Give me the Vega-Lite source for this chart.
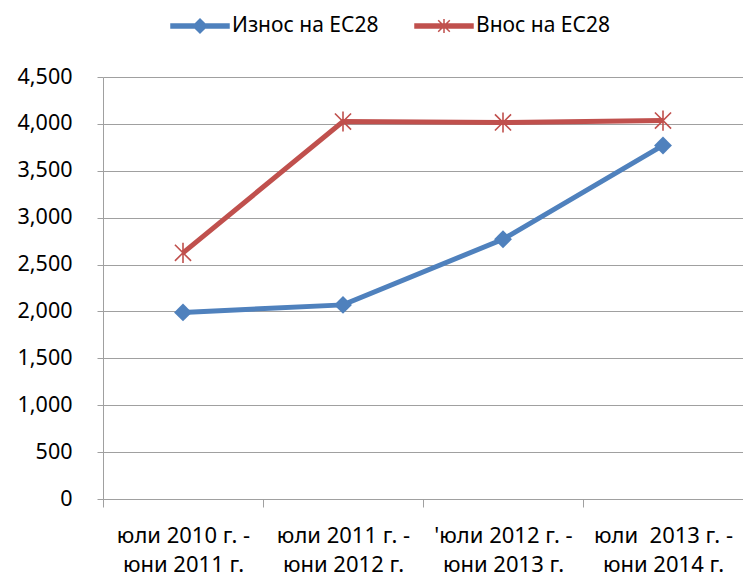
{
  "$schema": "https://vega.github.io/schema/vega-lite/v6.json",
  "width": 640,
  "height": 422,
  "autosize": "none",
  "padding": {"left": 103, "top": 77, "right": 0, "bottom": 77},
  "background": "white",
  "config": {"font": "Noto Sans", "view": {"stroke": null}},
  "data": {
    "values": [
      {"period": "юли 2010 г. -\nюни 2011 г.", "series": "Износ на ЕС28", "value": 1990},
      {"period": "юли 2011 г. -\nюни 2012 г.", "series": "Износ на ЕС28", "value": 2070},
      {"period": "'юли 2012 г. -\nюни 2013 г.", "series": "Износ на ЕС28", "value": 2770},
      {"period": "юли \u00a02013 г. -\nюни 2014 г.", "series": "Износ на ЕС28", "value": 3770},
      {"period": "юли 2010 г. -\nюни 2011 г.", "series": "Внос на ЕС28", "value": 2625},
      {"period": "юли 2011 г. -\nюни 2012 г.", "series": "Внос на ЕС28", "value": 4025},
      {"period": "'юли 2012 г. -\nюни 2013 г.", "series": "Внос на ЕС28", "value": 4015},
      {"period": "юли \u00a02013 г. -\nюни 2014 г.", "series": "Внос на ЕС28", "value": 4035}
    ]
  },
  "encoding": {
    "x": {
      "field": "period",
      "type": "nominal",
      "sort": null,
      "scale": {"type": "band", "paddingInner": 0, "paddingOuter": 0},
      "axis": {
        "title": null,
        "labelAngle": 0,
        "tickBand": "extent",
        "labelExpr": "split(datum.label, '\\n')",
        "labelFontSize": 22,
        "labelColor": "#000",
        "labelLineHeight": 29,
        "labelPadding": 18,
        "labelLimit": 300,
        "tickSize": 8,
        "tickColor": "#a0a0a0",
        "domainColor": "#a0a0a0",
        "grid": false
      }
    },
    "y": {
      "field": "value",
      "type": "quantitative",
      "scale": {"domain": [0, 4500]},
      "axis": {
        "title": null,
        "values": [0, 500, 1000, 1500, 2000, 2500, 3000, 3500, 4000, 4500],
        "format": ",.0f",
        "grid": true,
        "gridColor": "#a0a0a0",
        "domainColor": "#a0a0a0",
        "tickColor": "#a0a0a0",
        "tickSize": 6,
        "labelPadding": 25,
        "labelFontSize": 21.5,
        "labelColor": "#000"
      }
    },
    "color": {
      "field": "series",
      "type": "nominal",
      "scale": {"domain": ["Износ на ЕС28", "Внос на ЕС28"], "range": ["#4F81BD", "#C0504D"]},
      "legend": {
        "title": null,
        "orient": "none",
        "legendX": 67,
        "legendY": -81,
        "direction": "horizontal",
        "labelFontSize": 21,
        "labelColor": "#000",
        "labelOffset": 2,
        "columnPadding": 33,
        "symbolSize": 3364,
        "symbolStrokeWidth": 1.5,
        "encode": {
          "symbols": {
            "update": {
              "shape": {"signal": "datum.value === 'Износ на ЕС28' ? 'M-1,-0.07L1,-0.07L1,0.07L-1,0.07Z M-0.24,0L0,-0.24L0.24,0L0,0.24Z' : 'M-1,-0.07L1,-0.07L1,0.07L-1,0.07Z M-0.2,-0.2L0.2,0.2M-0.2,0.2L0.2,-0.2M0,-0.24L0,0.24'"},
              "fill": {"scale": "color", "field": "value"},
              "stroke": {"scale": "color", "field": "value"},
              "opacity": {"value": 1},
              "fillOpacity": {"value": 1},
              "strokeWidth": {"value": 1.5}
            }
          }
        }
      }
    }
  },
  "layer": [
    {"mark": {"type": "line", "strokeWidth": 5}},
    {
      "transform": [{"filter": "datum.series === 'Износ на ЕС28'"}],
      "mark": {"type": "point", "shape": "diamond", "filled": true, "opacity": 1, "size": 320}
    },
    {
      "transform": [{"filter": "datum.series === 'Внос на ЕС28'"}],
      "mark": {"type": "point", "shape": "M-1,-1L1,1M-1,1L1,-1M0,-1.25L0,1.25", "filled": false, "opacity": 1, "strokeWidth": 1.6, "size": 260}
    }
  ]
}
